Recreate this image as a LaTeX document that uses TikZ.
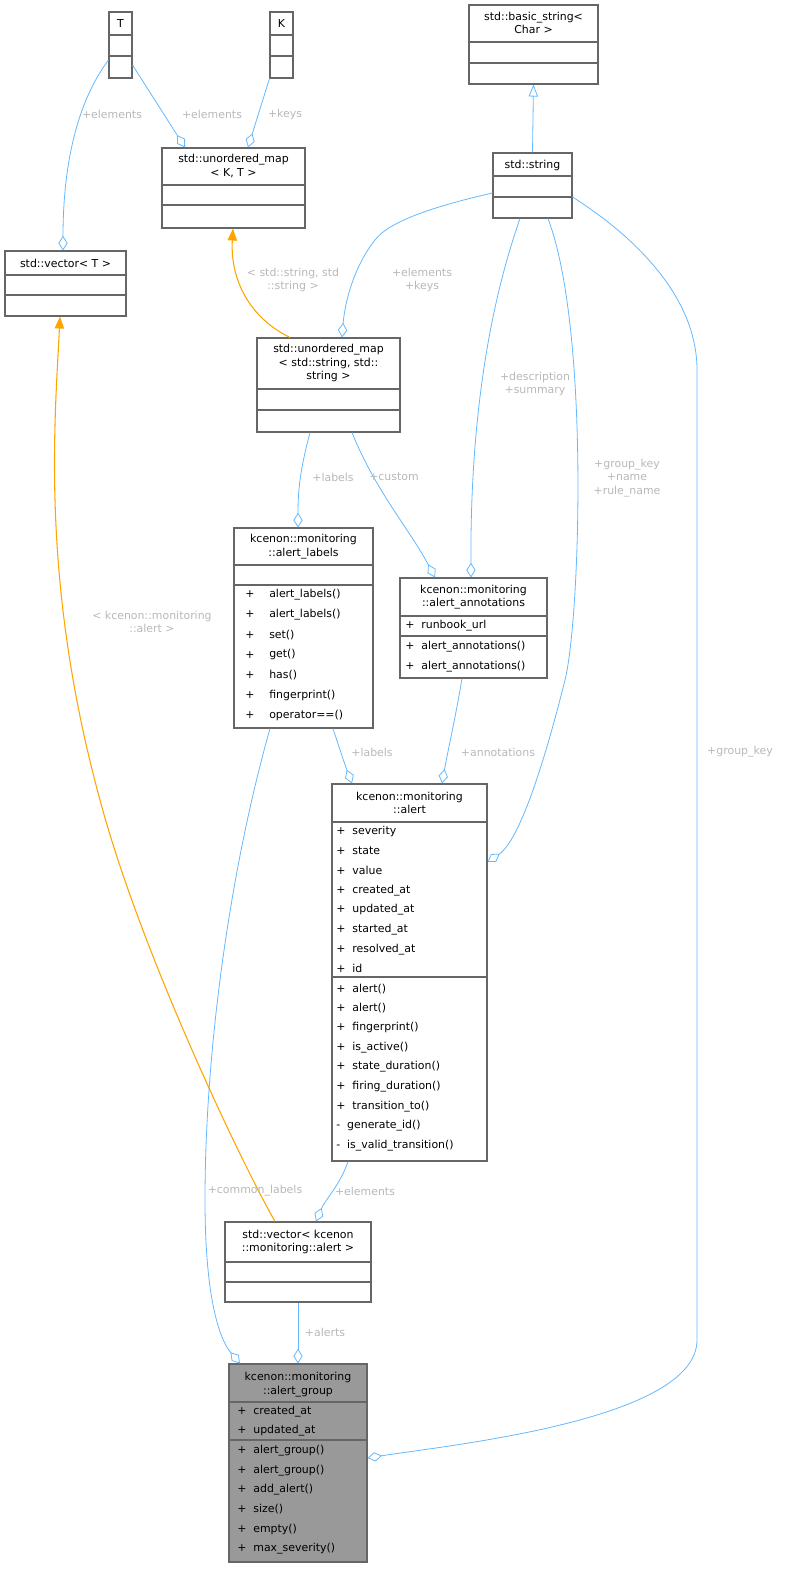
\documentclass[tikz,border=0pt]{standalone}
\usepackage{fontspec}
\setmainfont{DejaVu Sans}
\usetikzlibrary{arrows.meta,fit}
\definecolor{edgeblue}{HTML}{63B8FF}
\definecolor{edgeorange}{HTML}{FFA500}
\definecolor{boxline}{HTML}{666666}
\definecolor{lblgray}{HTML}{B8B8B8}
\tikzset{
	box/.style={draw=boxline, fill=white, inner sep=0pt, line width=0.8pt},
	sep/.style={draw=boxline, line width=0.8pt},
	ttl/.style={inner sep=0pt, align=center, font=\fontsize{8.2}{10}\selectfont},
	mbr/.style={inner sep=0pt, anchor=west, font=\fontsize{8.2}{9}\selectfont},
	lbl/.style={inner sep=0pt, align=center, text=lblgray, font=\fontsize{8.2}{10}\selectfont},
	agg/.style={draw=edgeblue, line width=0.6pt, -{Diamond[open, length=11pt, width=7pt]}},
	tpl/.style={draw=edgeorange, line width=0.8pt, -{Triangle[length=9pt, width=7pt]}},
	inh/.style={draw=edgeblue, line width=0.6pt, -{Triangle[open, length=9pt, width=7pt]}},
}
\newcommand{\umlbox}[5]{\node[box, fit={(#2,#3) (#4,#5)}] (#1) {};}
\begin{document}
\begin{tikzpicture}[x=0.75pt,y=0.75pt,yscale=-1,xscale=1]
	\useasboundingbox (0,0) rectangle (791,1581);

	% boxes
	\umlbox{T}{109}{12}{132}{78}
	\node[ttl] (Tt) at (120.5,24) {T};
	\draw[sep] (109,35) -- (132,35) (109,56) -- (132,56);
	\umlbox{K}{270}{12}{293}{78}
	\node[ttl] (Kt) at (281.5,24) {K};
	\draw[sep] (270,35) -- (293,35) (270,56) -- (293,56);
	\umlbox{umapKT}{162}{148}{305}{228}
	\node[ttl] (umapKTt) at (233.5,166) {std::unordered\_map\\< K, T >};
	\draw[sep] (162,185) -- (305,185) (162,205) -- (305,205);
	\umlbox{vecT}{5}{251}{126}{316}
	\node[ttl] (vecTt) at (65.5,263) {std::vector< T >};
	\draw[sep] (5,275) -- (126,275) (5,295) -- (126,295);
	\umlbox{bstr}{469}{5}{598}{84}
	\node[ttl] (bstrt) at (533.5,23) {std::basic\_string<\\Char >};
	\draw[sep] (469,42) -- (598,42) (469,63) -- (598,63);
	\umlbox{str}{493}{153}{572}{218}
	\node[ttl] (strt) at (532.5,165) {std::string};
	\draw[sep] (493,176) -- (572,176) (493,197) -- (572,197);
	\umlbox{umapSS}{257}{338}{400}{432}
	\node[ttl] (umapSSt) at (328.5,363) {std::unordered\_map\\< std::string, std::\\string >};
	\draw[sep] (257,389) -- (400,389) (257,410) -- (400,410);

	\umlbox{labels}{234}{528}{373}{728}
	\node[ttl] (labelst) at (303.5,546.5) {kcenon::monitoring\\::alert\_labels};
	\draw[sep] (234,565) -- (373,565) (234,585) -- (373,585);
	\foreach \m [count=\i] in {alert\_labels(),alert\_labels(),set(),get(),has(),fingerprint(),operator==()} {
		\node[mbr] (labelsp\i) at (245,574+20.2*\i) {+};
		\node[mbr] (labelsm\i) at (269,574+20.2*\i) {\m};
	}

	\umlbox{annot}{400}{578}{547}{678}
	\node[ttl] (annott) at (473.5,597) {kcenon::monitoring\\::alert\_annotations};
	\draw[sep] (400,616) -- (547,616) (400,636) -- (547,636);
	\node[mbr] (annota1) at (405,626) {+\ \ runbook\_url};
	\node[mbr] (annotm1) at (405,647) {+\ \ alert\_annotations()};
	\node[mbr] (annotm2) at (405,667) {+\ \ alert\_annotations()};

	\umlbox{alert}{332}{784}{487}{1161}
	\node[ttl] (alertt) at (409.5,803) {kcenon::monitoring\\::alert};
	\draw[sep] (332,822) -- (487,822) (332,977) -- (487,977);
	\foreach \m [count=\i] in {severity,state,value,created\_at,updated\_at,started\_at,resolved\_at,id} {
		\node[mbr] (alerta\i) at (336,812+19.6*\i) {+\ \ \m};
	}
	\foreach \s/\m [count=\i] in {+/alert(),+/alert(),+/fingerprint(),+/is\_active(),+/state\_duration(),+/firing\_duration(),+/transition\_to(),-/generate\_id(),-/is\_valid\_transition()} {
		\node[mbr] (alertm\i) at (336,969+19.6*\i) {\s\ \ \m};
	}

	\umlbox{vecA}{225}{1222}{371}{1302}
	\node[ttl] (vecAt) at (298,1242) {std::vector< kcenon\\::monitoring::alert >};
	\draw[sep] (225,1262) -- (371,1262) (225,1282) -- (371,1282);

	\node[box, fill=black!40, fit={(229,1364) (367,1562)}] (group) {};
	\node[ttl] (groupt) at (298,1384.5) {kcenon::monitoring\\::alert\_group};
	\draw[sep] (229,1402) -- (367,1402) (229,1440) -- (367,1440);
	\node[mbr] (groupa1) at (237,1412) {+\ \ created\_at};
	\node[mbr] (groupa2) at (237,1431) {+\ \ updated\_at};
	\foreach \m [count=\i] in {alert\_group(),alert\_group(),add\_alert(),size(),empty(),max\_severity()} {
		\node[mbr] (groupm\i) at (237,1431+19.6*\i) {+\ \ \m};
	}

	% connectors
	\draw[agg] (T.west|-0,60) .. controls (75,105) and (63,170) .. (vecT.north-|63,0);
	\node[lbl] (l1) at (112,114) {+elements};
	\draw[agg] (T.east|-0,65) -- (umapKT.north-|185,0);
	\node[lbl] (l2) at (212,114) {+elements};
	\draw[agg] (K.south west) -- (umapKT.north-|248,0);
	\node[lbl] (l3) at (285,114) {+keys};
	\draw[tpl] (umapSS.north-|290,0) .. controls (250,318) and (230,280) .. (umapKT.south-|233,0);
	\node[lbl] (l4) at (293,280) {< std::string, std\\::string >};
	\draw[inh] (str.north) -- (bstr.south);
	\draw[agg] (str.west|-0,193) .. controls (440,205) and (390,220) .. (375,240) .. controls (355,265) and (345,300) .. (umapSS.north-|342,0);
	\node[lbl] (l5) at (422,280) {+elements\\+keys};
	\draw[agg] (str.south-|520,0) .. controls (495,290) and (470,400) .. (annot.north-|471,0);
	\node[lbl] (l6) at (535,384) {+description\\+summary};
	\draw[agg] (str.south-|548,0) .. controls (590,330) and (580,620) .. (565,680) .. controls (545,760) and (520,840) .. (alert.east|-0,862);
	\node[lbl] (l7) at (627,478) {+group\_key\\+name\\+rule\_name};
	\draw[agg] (str.east|-0,197) .. controls (640,240) and (697,300) .. (697,370) -- (697,1340) .. controls (697,1420) and (450,1445) .. (group.east|-0,1458);
	\node[lbl] (l8) at (740,752) {+group\_key};
	\draw[agg] (umapSS.south-|310,0) .. controls (300,470) and (298,490) .. (labels.north-|298,0);
	\node[lbl] (l9) at (333,477) {+labels};
	\draw[agg] (umapSS.south-|352,0) .. controls (375,490) and (410,530) .. (annot.north-|435,0);
	\node[lbl] (l10) at (394,477) {+custom};
	\draw[agg] (labels.south-|333,0) .. controls (340,750) and (345,765) .. (alert.north-|352,0);
	\node[lbl] (l11) at (372,752) {+labels};
	\draw[agg] (annot.south-|462,0) .. controls (455,720) and (448,750) .. (alert.north-|442,0);
	\node[lbl] (l12) at (498,752) {+annotations};
	\draw[agg] (alert.south-|348,0) .. controls (340,1185) and (325,1200) .. (vecA.north-|316,0);
	\node[lbl] (l13) at (365,1191) {+elements};
	\draw[tpl] (vecA.north-|275,0) .. controls (240,1160) and (140,950) .. (100,800) .. controls (40,580) and (55,420) .. (vecT.south-|60,0);
	\node[lbl] (l14) at (152,622) {< kcenon::monitoring\\::alert >};
	\draw[agg] (labels.south-|270,0) .. controls (230,870) and (205,1050) .. (205,1200) .. controls (205,1300) and (220,1340) .. (group.north-|240,0);
	\node[lbl] (l15) at (255,1191) {+common\_labels};
	\draw[agg] (vecA.south-|298,0) -- (group.north-|298,0);
	\node[lbl] (l16) at (325,1332) {+alerts};
\end{tikzpicture}
\end{document}
